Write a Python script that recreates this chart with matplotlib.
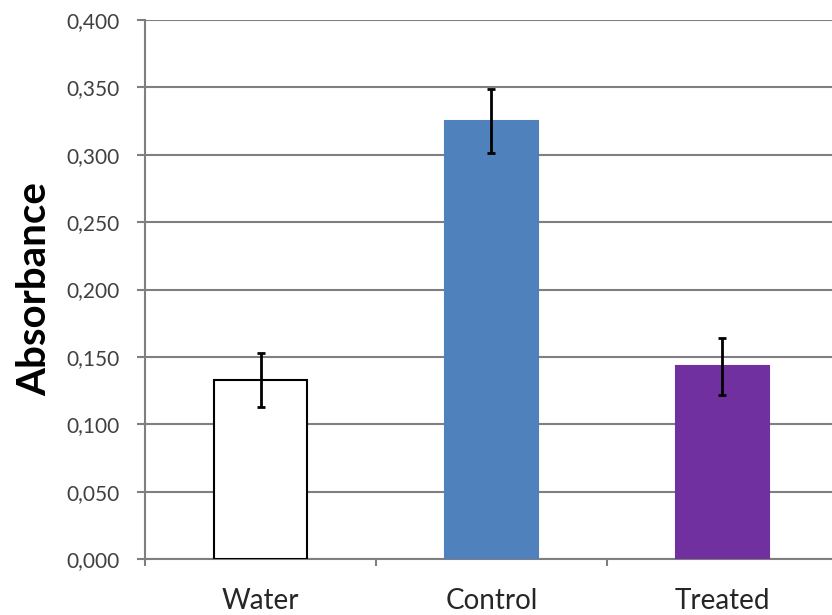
import numpy as np
import matplotlib.pyplot as plt
from matplotlib.ticker import FuncFormatter

groups = ['Water', 'Control', 'Treated']
absorbance = [0.133, 0.325, 0.143]
errors = [0.020, 0.024, 0.021]
bar_colors = ['white', '#4F81BD', '#7030A0']
edge_colors = ['black', '#4F81BD', '#7030A0']

plt.rcParams['font.family'] = ['Lato', 'DejaVu Sans']

fig = plt.figure(figsize=(8.32, 6.15), dpi=100)
ax = fig.add_axes([145/832, 1-559/615, 693/832, (559-20)/615])

x = np.arange(len(groups))
ax.bar(x, absorbance, width=0.4, color=bar_colors, edgecolor=edge_colors,
       linewidth=1.5, zorder=3)
ax.errorbar(x, absorbance, yerr=errors, fmt='none', ecolor='black',
            elinewidth=2, capsize=3, capthick=2, zorder=4)

ax.set_xlim(-0.5, 2.5)
ax.set_ylim(0, 0.4)
ax.set_yticks(np.arange(0, 0.401, 0.05))
ax.yaxis.set_major_formatter(FuncFormatter(lambda v, p: f'{v:.3f}'.replace('.', ',')))
ax.grid(axis='y', color='#7f7f7f', linewidth=1.5, zorder=0)

ax.set_xticks([-0.5, 0.5, 1.5, 2.5])
ax.set_xticklabels([])
ax.set_xticks(x, minor=True)
ax.set_xticklabels(groups, minor=True, fontsize=20, color='#262626')
ax.tick_params(axis='x', which='minor', length=0, pad=21)
ax.tick_params(axis='x', which='major', length=5, width=1.5, color='#7f7f7f')
ax.tick_params(axis='y', length=6, width=1.5, color='#7f7f7f', labelsize=15,
               labelcolor='#404040', pad=12)

for s in ['top', 'right']:
    ax.spines[s].set_visible(False)
for s in ['left', 'bottom']:
    ax.spines[s].set_color('#7f7f7f')
    ax.spines[s].set_linewidth(1.5)

ax.set_ylabel('Absorbance', fontsize=29, fontweight='bold', labelpad=10)

fig.savefig('out.png', dpi=100)
